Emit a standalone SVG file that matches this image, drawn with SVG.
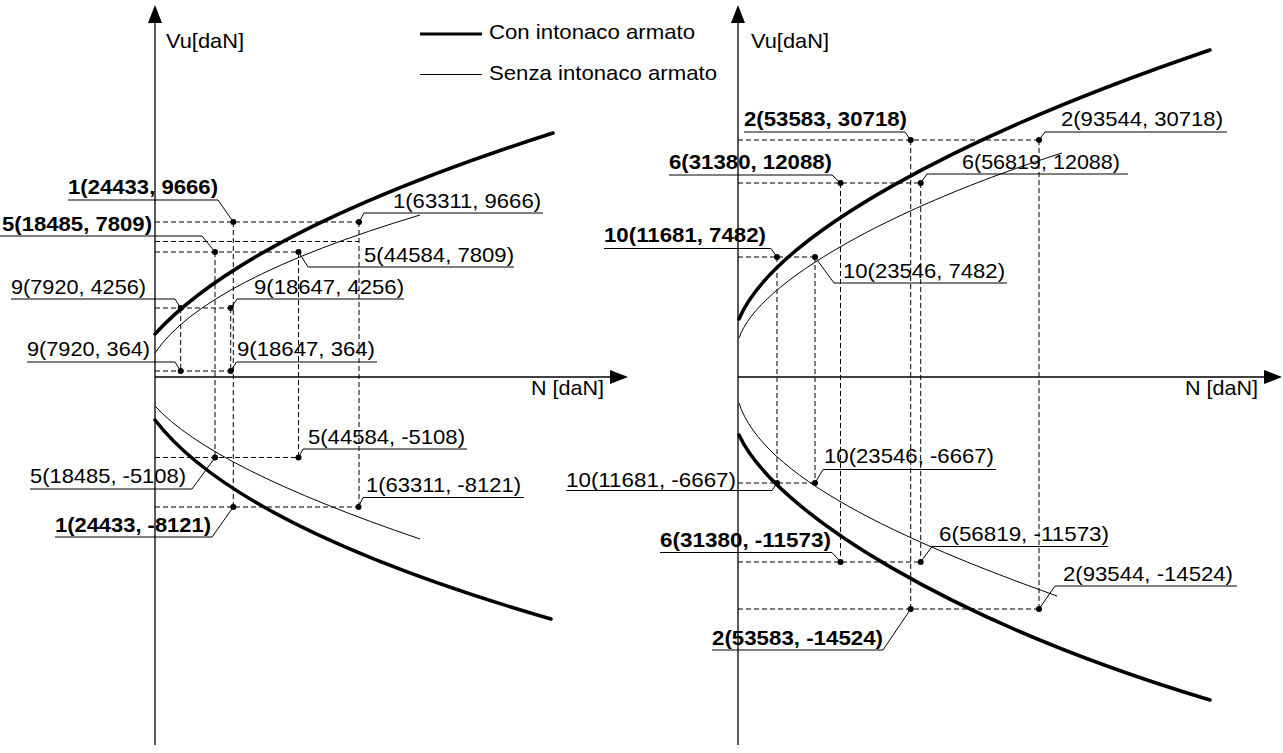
<svg xmlns="http://www.w3.org/2000/svg" width="1283" height="753" viewBox="0 0 1283 753">
<style>
text{font-family:"Liberation Sans",Arial,sans-serif;font-size:21px;fill:#000}
.b{font-weight:bold}
.ax{stroke:#000;stroke-width:1.3;fill:none}
.thk{stroke:#000;stroke-width:3.5;fill:none;stroke-linecap:round}
.thn{stroke:#000;stroke-width:1;fill:none}
.dash{stroke:#000;stroke-width:1;stroke-dasharray:5 3;fill:none}
.ul{stroke:#000;stroke-width:1;fill:none}
.dot{fill:#000}
</style>
<defs>
<marker id="arr" viewBox="0 0 18 14" refX="0" refY="7" markerWidth="18" markerHeight="14" markerUnits="userSpaceOnUse" orient="auto">
<path d="M0,0 L18,7 L0,14 Z" fill="#000"/>
</marker>
</defs>
<rect width="1283" height="753" fill="#fff"/>

<g id="axes-left">
<line class="ax" x1="155" y1="745" x2="155" y2="23" marker-end="url(#arr)"/>
<line class="ax" x1="155" y1="377" x2="610" y2="377" marker-end="url(#arr)"/>
<text x="166" y="48" textLength="78" lengthAdjust="spacingAndGlyphs">Vu[daN]</text>
<text x="531" y="395" textLength="73" lengthAdjust="spacingAndGlyphs">N [daN]</text>
</g>
<g id="axes-right">
<line class="ax" x1="738" y1="745" x2="738" y2="23" marker-end="url(#arr)"/>
<line class="ax" x1="738" y1="377" x2="1264" y2="377" marker-end="url(#arr)"/>
<text x="751" y="48" textLength="78" lengthAdjust="spacingAndGlyphs">Vu[daN]</text>
<text x="1185" y="395" textLength="73" lengthAdjust="spacingAndGlyphs">N [daN]</text>
</g>

<g id="legend">
<line x1="420" y1="34" x2="482" y2="34" stroke="#000" stroke-width="3"/>
<text x="489" y="39" textLength="206" lengthAdjust="spacingAndGlyphs">Con intonaco armato</text>
<line x1="420" y1="74.5" x2="482" y2="74.5" stroke="#000" stroke-width="1"/>
<text x="489" y="80" textLength="228" lengthAdjust="spacingAndGlyphs">Senza intonaco armato</text>
</g>

<g id="curves-left">
<path class="thk" d="M155,334 Q249.4,230.2 553,133"/>
<path class="thk" d="M155,420 Q238.3,528.3 551,619"/>
<path class="thn" d="M155,353 Q203.75,280 420,215"/>
<path class="thn" d="M155,406 Q211.4,468 420,539"/>
</g>
<g id="curves-right">
<path class="thk" d="M739,319 C775,235 960,135 1210,50"/>
<path class="thk" d="M739,435 C775,512 950,622 1210,700"/>
<path class="thn" d="M739,338 C758,282 892,207 1062,153"/>
<path class="thn" d="M739,403 C762,476 900,540 1057,596"/>
</g>

<g id="connectors">
<path class="dash" d="M155,222H359 M155,241.5H359 M155,252H298.5 M155,308H230.7 M155,371H230.7 M155,457.5H298.5 M155,507H358.5"/>
<path class="dash" d="M180.7,308V371 M230.7,308V371 M215,252V457.5 M233.3,222V507 M298.5,252V457.5 M359,222V507"/>
<path class="dash" d="M738,140H1039 M738,183H920.7 M738,257H815 M738,483H815 M738,562H920.7 M738,609H1039"/>
<path class="dash" d="M777,257V483 M815,257V483 M840.5,183V562 M910.7,140V609 M920.7,183V562 M1039,140V609"/>
<path class="ul" d="M68,200H218L233.3,222"/>
<path class="ul" d="M359,222L364,213H543"/>
<path class="ul" d="M0,236H202L215,252"/>
<path class="ul" d="M298.5,252L308,267H514"/>
<path class="ul" d="M11,299H175L180.7,308"/>
<path class="ul" d="M230.7,308L237,299H404"/>
<path class="ul" d="M27,362H175L180.7,371"/>
<path class="ul" d="M230.7,371L236.5,362H377"/>
<path class="ul" d="M298.5,457.5L303,449H467"/>
<path class="ul" d="M30,489H192L215,457.5"/>
<path class="ul" d="M358.5,507L363,497.5H524"/>
<path class="ul" d="M55,537H212L233.3,507"/>
<path class="ul" d="M744,132H905L910.7,140"/>
<path class="ul" d="M1039,140L1045,132H1227"/>
<path class="ul" d="M669,175H832L840.5,183"/>
<path class="ul" d="M920.7,183L927,174H1128"/>
<path class="ul" d="M604,248.5H771L777,257"/>
<path class="ul" d="M815,257L834,283H1007"/>
<path class="ul" d="M815,483L823,469.5H996"/>
<path class="ul" d="M566,490.5H772L777,483"/>
<path class="ul" d="M660,552.5H832L840.5,562"/>
<path class="ul" d="M920.7,562L932,546.5H1108"/>
<path class="ul" d="M1039,609L1055,586H1237"/>
<path class="ul" d="M712,650H883L910.7,609"/>
</g>

<g id="points">
<circle class="dot" cx="233.3" cy="222" r="3"/><circle class="dot" cx="359" cy="222" r="3"/>
<circle class="dot" cx="215" cy="252" r="3"/><circle class="dot" cx="298.5" cy="252" r="3"/>
<circle class="dot" cx="180.7" cy="308" r="3"/><circle class="dot" cx="230.7" cy="308" r="3"/>
<circle class="dot" cx="180.7" cy="371" r="3"/><circle class="dot" cx="230.7" cy="371" r="3"/>
<circle class="dot" cx="215" cy="457.5" r="3"/><circle class="dot" cx="298.5" cy="457.5" r="3"/>
<circle class="dot" cx="233.3" cy="507" r="3"/><circle class="dot" cx="358.5" cy="507" r="3"/>
<circle class="dot" cx="910.7" cy="140" r="3"/><circle class="dot" cx="1039" cy="140" r="3"/>
<circle class="dot" cx="840.5" cy="183" r="3"/><circle class="dot" cx="920.7" cy="183" r="3"/>
<circle class="dot" cx="777" cy="257" r="3"/><circle class="dot" cx="815" cy="257" r="3"/>
<circle class="dot" cx="777" cy="483" r="3"/><circle class="dot" cx="815" cy="483" r="3"/>
<circle class="dot" cx="840.5" cy="562" r="3"/><circle class="dot" cx="920.7" cy="562" r="3"/>
<circle class="dot" cx="910.7" cy="609" r="3"/><circle class="dot" cx="1039" cy="609" r="3"/>
</g>

<g id="label-L1a"><text class="b" x="68" y="194" textLength="150" lengthAdjust="spacingAndGlyphs">1(24433, 9666)</text></g>
<g id="label-L1b"><text x="393" y="208" textLength="148" lengthAdjust="spacingAndGlyphs">1(63311, 9666)</text></g>
<g id="label-L5a"><text class="b" x="2" y="231" textLength="150" lengthAdjust="spacingAndGlyphs">5(18485, 7809)</text></g>
<g id="label-L5b"><text x="364" y="262" textLength="150" lengthAdjust="spacingAndGlyphs">5(44584, 7809)</text></g>
<g id="label-L9a"><text x="11" y="294" textLength="135" lengthAdjust="spacingAndGlyphs">9(7920, 4256)</text></g>
<g id="label-L9b"><text x="254" y="294" textLength="150" lengthAdjust="spacingAndGlyphs">9(18647, 4256)</text></g>
<g id="label-L9c"><text x="27" y="356" textLength="123" lengthAdjust="spacingAndGlyphs">9(7920, 364)</text></g>
<g id="label-L9d"><text x="237" y="356" textLength="138" lengthAdjust="spacingAndGlyphs">9(18647, 364)</text></g>
<g id="label-L5c"><text x="308" y="444" textLength="157" lengthAdjust="spacingAndGlyphs">5(44584, -5108)</text></g>
<g id="label-L5d"><text x="30" y="483" textLength="156" lengthAdjust="spacingAndGlyphs">5(18485, -5108)</text></g>
<g id="label-L1c"><text x="366" y="492" textLength="155" lengthAdjust="spacingAndGlyphs">1(63311, -8121)</text></g>
<g id="label-L1d"><text class="b" x="55" y="532" textLength="156" lengthAdjust="spacingAndGlyphs">1(24433, -8121)</text></g>

<g id="label-R2a"><text class="b" x="744" y="126" textLength="163" lengthAdjust="spacingAndGlyphs">2(53583, 30718)</text></g>
<g id="label-R2b"><text x="1061" y="126" textLength="162" lengthAdjust="spacingAndGlyphs">2(93544, 30718)</text></g>
<g id="label-R6a"><text class="b" x="669" y="169" textLength="163" lengthAdjust="spacingAndGlyphs">6(31380, 12088)</text></g>
<g id="label-R6b"><text x="962" y="169" textLength="158" lengthAdjust="spacingAndGlyphs">6(56819, 12088)</text></g>
<g id="label-R10a"><text class="b" x="604" y="242" textLength="162" lengthAdjust="spacingAndGlyphs">10(11681, 7482)</text></g>
<g id="label-R10b"><text x="843" y="278" textLength="162" lengthAdjust="spacingAndGlyphs">10(23546, 7482)</text></g>
<g id="label-R10c"><text x="824" y="463" textLength="170" lengthAdjust="spacingAndGlyphs">10(23546, -6667)</text></g>
<g id="label-R10d"><text x="566" y="487" textLength="170" lengthAdjust="spacingAndGlyphs">10(11681, -6667)</text></g>
<g id="label-R6c"><text class="b" x="660" y="547" textLength="171" lengthAdjust="spacingAndGlyphs">6(31380, -11573)</text></g>
<g id="label-R6d"><text x="939" y="541" textLength="170" lengthAdjust="spacingAndGlyphs">6(56819, -11573)</text></g>
<g id="label-R2c"><text x="1063" y="581" textLength="170" lengthAdjust="spacingAndGlyphs">2(93544, -14524)</text></g>
<g id="label-R2d"><text class="b" x="712" y="645" textLength="171" lengthAdjust="spacingAndGlyphs">2(53583, -14524)</text></g>
</svg>
